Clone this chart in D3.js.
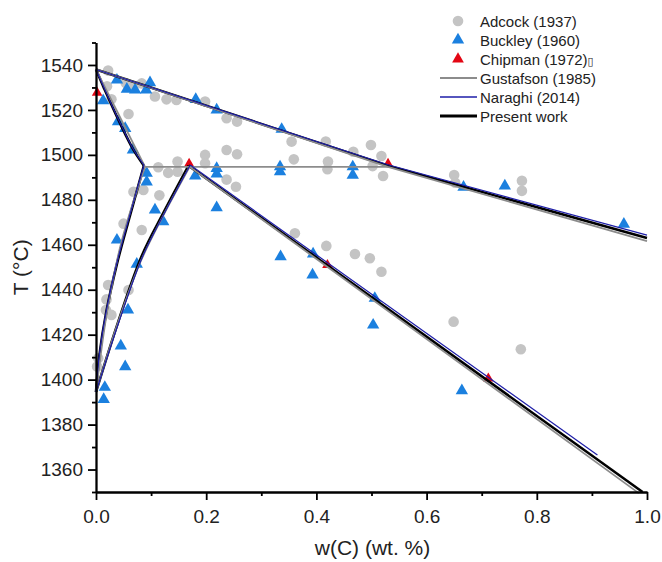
<!DOCTYPE html>
<html>
<head>
<meta charset="utf-8">
<script src="https://cdn.jsdelivr.net/npm/d3@7/dist/d3.min.js"></script>
<style>
  html, body { margin: 0; padding: 0; background: #fff; }
  svg { display: block; font-family: Arial, "Liberation Sans", sans-serif; }
</style>
</head>
<body>
<svg id="chart" width="662" height="562"></svg>
<script>
// Fe–C peritectic region: measured points [w(C) wt.%, T °C]
const adcock = [
  [0.022,1537.5],[0.028,1524.7],[0.054,1532],[0.068,1530.3],[0.083,1531.8],[0.020,1530.5],
  [0.059,1518.2],[0.107,1526],[0.128,1524.7],[0.146,1524.4],[0.198,1523.7],
  [0.237,1516.3],[0.256,1514.8],[0.237,1502.2],[0.256,1500.3],[0.198,1500],[0.198,1496.3],
  [0.148,1497],[0.148,1492.5],[0.113,1494.5],[0.131,1492],[0.237,1489],[0.254,1485.8],
  [0.068,1483.6],[0.086,1484.4],[0.115,1482],[0.050,1469.4],[0.083,1466.6],
  [0.022,1442.1],[0.019,1435.7],[0.018,1431],[0.028,1428.8],[0.059,1439.9],
  [0.004,1409.5],[0.002,1405.8],
  [0.355,1505.9],[0.417,1505.9],[0.467,1501.4],[0.499,1504.4],[0.518,1499.5],
  [0.359,1498],[0.421,1497],[0.420,1493.6],[0.502,1495],[0.521,1490.6],
  [0.650,1491],[0.652,1487.6],[0.773,1488.5],[0.773,1484],
  [0.361,1465.1],[0.418,1459.5],[0.470,1455.9],[0.497,1454],[0.518,1448],
  [0.649,1425.8],[0.771,1413.5]
];
const buckley = [
  [0.013,1524.1],[0.038,1533.3],[0.056,1529.2],[0.071,1528.9],[0.091,1528.9],[0.098,1532.1],
  [0.181,1524.7],[0.219,1520],[0.040,1514.8],[0.053,1511.8],[0.067,1502.2],
  [0.092,1491.8],[0.092,1488],[0.180,1490.6],[0.219,1494],[0.219,1491.5],[0.219,1476.5],
  [0.107,1475.5],[0.122,1470.3],[0.038,1462.1],[0.074,1451.4],
  [0.058,1431],[0.045,1415],[0.053,1405.8],[0.016,1396.6],[0.014,1391.2],
  [0.337,1511.4],[0.334,1494.7],[0.334,1492.5],[0.466,1494.7],[0.466,1491],
  [0.667,1485.6],[0.742,1486.2],[0.958,1469.2],
  [0.335,1454.7],[0.394,1455.9],[0.393,1446.6],[0.506,1436.2],[0.503,1424.3],[0.664,1395.1]
];
const chipman = [
  [0.002,1527.7],[0.169,1496],[0.53,1496],[0.42,1451],[0.712,1400.5]
];

// Calculated phase boundaries, one polyline per boundary
const gustafson = [
  [[0,1538],[0.53,1494.7],[1.0,1461.6]],                          // liquidus
  [[0,1538],[0.089,1494.7]],                                      // delta solidus
  [[0.089,1494.7],[0.53,1494.7]],                                 // peritectic line
  [[0.089,1494.7],[0.047,1462],[0.02,1430],[0,1394.5]],           // delta / delta+gamma
  [[0.170,1494.7],[0.122,1473],[0.08,1452],[0.038,1424],[0,1394.5]], // delta+gamma / gamma
  [[0.170,1494.7],[0.985,1349.5]]                                 // gamma solidus
];
const naraghi = [
  [[0,1538],[0.53,1495.6],[1.0,1464.3]],
  [[0,1538],[0.022,1525.8],[0.045,1513.6],[0.068,1502.4],[0.087,1495.5]],
  [[0.087,1495.5],[0.060,1472],[0.038,1452],[0.019,1431],[0.006,1411],[0,1394.5]],
  [[0.171,1495.5],[0.125,1474.5],[0.085,1455],[0.042,1426],[0,1394.5]],
  [[0.171,1495.5],[0.91,1366.5]]
];
const present = [
  [[0,1538],[0.53,1495.2],[1.0,1463]],
  [[0,1538],[0.022,1525.6],[0.045,1513.3],[0.068,1502.2],[0.087,1495.2]],
  [[0.087,1495.2],[0.060,1471.5],[0.038,1451.5],[0.019,1430.5],[0.006,1410.5],[0,1394.5]],
  [[0.168,1495.2],[0.123,1474.5],[0.083,1455],[0.040,1425.5],[0,1394.5]],
  [[0.168,1495.2],[0.992,1350]]
];

const yMajor = d3.range(1360, 1541, 20);
const yMinor = d3.range(1350, 1551, 10).filter(v => v % 20 !== 0);
const xMajor = [0, 0.2, 0.4, 0.6, 0.8, 1.0];
const xMinor = [0.1, 0.3, 0.5, 0.7, 0.9];

const svg = d3.select("#chart");
const x = d3.scaleLinear().domain([0, 1]).range([96, 647]);
const y = d3.scaleLinear().domain([1350, 1550]).range([492, 42.5]);

// markers (under the calculated lines)
svg.append("g").selectAll("circle").data(adcock).join("circle")
  .attr("cx", d => x(d[0])).attr("cy", d => y(d[1])).attr("r", 5.3)
  .attr("fill", "#c4c4c4");

const triBlue = d3.symbol(d3.symbolTriangle, 66);
const triRed = d3.symbol(d3.symbolTriangle, 48);
svg.append("g").selectAll("path").data(buckley).join("path")
  .attr("d", triBlue).attr("transform", d => `translate(${x(d[0])},${y(d[1])})`)
  .attr("fill", "#1b80df");
svg.append("g").selectAll("path").data(chipman).join("path")
  .attr("d", triRed).attr("transform", d => `translate(${x(d[0])},${y(d[1])})`)
  .attr("fill", "#e30613");

// straight segments for 2-3 point boundaries, smooth curves for the bent solvus lines
const straight = d3.line().x(d => x(d[0])).y(d => y(d[1]));
const smooth = d3.line().x(d => x(d[0])).y(d => y(d[1])).curve(d3.curveCatmullRom.alpha(0.5));
function drawSet(set, color, width) {
  svg.append("g").selectAll("path").data(set).join("path")
    .attr("d", d => (d.length > 3 ? smooth : straight)(d)).attr("fill", "none")
    .attr("stroke", color).attr("stroke-width", width)
    .attr("stroke-linejoin", "round");
}
drawSet(present, "#000", 2.6);
drawSet(gustafson, "#8c8c8c", 1.8);
drawSet(naraghi, "#1e1ea8", 1.2);

// axes
const axisStyle = g => {
  g.selectAll("path, line").attr("stroke", "#000").attr("stroke-width", 1.8);
  g.selectAll("text").attr("fill", "#222").attr("font-size", 19)
    .attr("font-family", "Arial, 'Liberation Sans', sans-serif");
};
svg.append("g").attr("transform", `translate(${x(0)},0)`)
  .call(d3.axisLeft(y).tickValues(yMinor).tickSize(4).tickSizeOuter(0).tickFormat(""))
  .call(axisStyle);
svg.append("g").attr("transform", `translate(${x(0)},0)`)
  .call(d3.axisLeft(y).tickValues(yMajor).tickSize(8).tickPadding(5).tickSizeOuter(0)
    .tickFormat(d3.format("d")))
  .call(axisStyle);
svg.append("g").attr("transform", `translate(0,${y(1350)})`)
  .call(d3.axisBottom(x).tickValues(xMinor).tickSize(4).tickSizeOuter(0).tickFormat(""))
  .call(axisStyle);
svg.append("g").attr("transform", `translate(0,${y(1350)})`)
  .call(d3.axisBottom(x).tickValues(xMajor).tickSize(8).tickPadding(10).tickSizeOuter(0)
    .tickFormat(d3.format(".1f")))
  .call(axisStyle);

// axis titles
svg.append("text").attr("transform", `translate(28,${(y(1350)+y(1550))/2}) rotate(-90)`)
  .attr("text-anchor", "middle").attr("font-size", 21).attr("fill", "#222")
  .text("T (°C)");
svg.append("text").attr("x", (x(0)+x(1))/2 + 1).attr("y", 555)
  .attr("text-anchor", "middle").attr("font-size", 21).attr("fill", "#222")
  .text("w(C) (wt. %)");

// legend
const legend = [
  { label: "Adcock (1937)", kind: "circle", color: "#c4c4c4" },
  { label: "Buckley (1960)", kind: "tri", color: "#1b80df" },
  { label: "Chipman (1972)", kind: "tri", color: "#e30613", tail: "\u25AF" },
  { label: "Gustafson (1985)", kind: "line", color: "#8c8c8c", w: 1.8 },
  { label: "Naraghi (2014)", kind: "line", color: "#1e1ea8", w: 1.4 },
  { label: "Present work", kind: "line", color: "#000", w: 3 }
];
const lg = svg.append("g");
const rowY = [21, 40, 59, 78, 97, 116];
legend.forEach((e, i) => {
  const g = lg.append("g").attr("transform", `translate(0,${rowY[i]})`);
  if (e.kind === "circle") g.append("circle").attr("cx", 458).attr("cy", 0).attr("r", 5.3).attr("fill", e.color);
  else if (e.kind === "tri") g.append("path").attr("d", i === 1 ? triBlue() : d3.symbol(d3.symbolTriangle, 60)())
    .attr("transform", "translate(458,0)").attr("fill", e.color);
  else g.append("line").attr("x1", 440).attr("x2", 477).attr("y1", 0).attr("y2", 0)
    .attr("stroke", e.color).attr("stroke-width", e.w);
  const t = g.append("text").attr("x", 480).attr("y", 5.5).attr("font-size", 15).attr("fill", "#222").text(e.label);
  if (e.tail) t.append("tspan").attr("font-size", 11).attr("font-family", "DejaVu Sans").text(e.tail);
});
</script>
</body>
</html>
